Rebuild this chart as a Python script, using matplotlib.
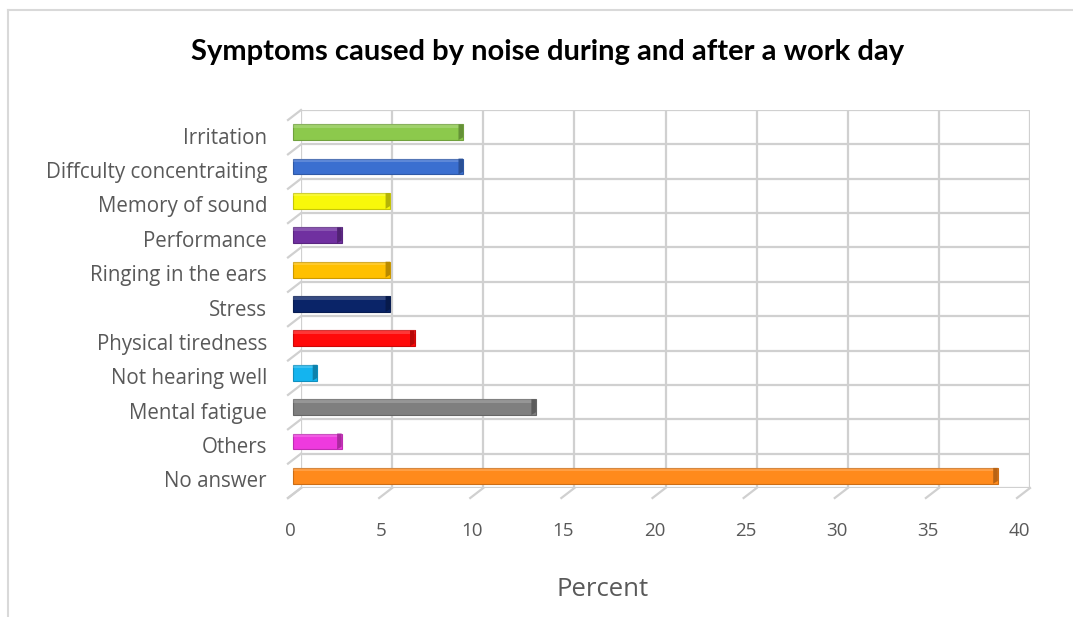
import matplotlib
matplotlib.use('Agg')
import matplotlib.pyplot as plt
import matplotlib.transforms as mtransforms
from matplotlib.patches import Rectangle, Polygon
from matplotlib.lines import Line2D

categories = ['No answer', 'Others', 'Mental fatigue', 'Not hearing well',
              'Physical tiredness', 'Stress', 'Ringing in the ears',
              'Performance', 'Memory of sound', 'Diffculty concentraiting',
              'Irritation']
percent = [38.67, 2.67, 13.33, 1.33, 6.67, 5.33, 5.33, 2.67, 5.33, 9.33, 9.33]
colors = ['#ff8a1c', '#ee3ade', '#7f7f7f', '#14b4ef', '#ff0a0a', '#0a2468',
          '#ffc000', '#7030a0', '#f8f80a', '#3b6fd0', '#8cc94c']
xticks = [0, 5, 10, 15, 20, 25, 30, 35, 40]

TEXT = '#595959'
GRID = '#d0d0d0'
W, H = 1073, 617

fig = plt.figure(figsize=(10.73, 6.17), dpi=100)
ax = fig.add_axes([301 / W, 129 / H, 729 / W, 378 / H])
ax.set_xlim(0, 40)
ax.set_ylim(-0.5, len(categories) - 0.5)
for s in ax.spines.values():
    s.set_visible(False)
ax.set_xticks([])
ax.set_yticks([])

# back wall grid
for x in xticks:
    ax.axvline(x, color=GRID, lw=1.6, zorder=1)
for i in range(len(categories) + 1):
    ax.axhline(i - 0.5, color=GRID, lw=1.6, zorder=1)


def stub(x, y):
    # short diagonal line running from the wall towards the viewer
    p0 = ax.transData.transform((x, y))
    p1 = p0 + [-13, -10]
    fig.add_artist(Line2D([p0[0] / W, p1[0] / W], [p0[1] / H, p1[1] / H],
                          color=GRID, lw=1.6, transform=fig.transFigure))


for x in xticks:
    stub(x, -0.5)
for i in range(len(categories) + 1):
    stub(0, i - 0.5)


def shade(c, f):
    r, g, b = matplotlib.colors.to_rgb(c)
    return (r * f, g * f, b * f)


# bars sit a little in front of the wall
front = ax.transData + mtransforms.ScaledTranslation(-0.08, -0.05, fig.dpi_scale_trans)
h = 0.46
for i, (v, c) in enumerate(zip(percent, colors)):
    y0 = i - h / 2
    ax.add_patch(Rectangle((0, y0), v, h, facecolor=c, edgecolor=shade(c, 0.8),
                           lw=0.8, transform=front, zorder=3, clip_on=False))
    # lighter strip along the top edge
    ax.add_patch(Rectangle((0, y0 + h * 0.78), v, h * 0.22,
                           facecolor=matplotlib.colors.to_rgba('white', 0.18),
                           edgecolor='none', transform=front, zorder=4, clip_on=False))
    # bevelled end face
    dx = 0.25
    ax.add_patch(Polygon([(v - dx, y0), (v, y0 + 0.08), (v, y0 + h), (v - dx, y0 + h)],
                         closed=True, facecolor=shade(c, 0.72), edgecolor='none',
                         transform=front, zorder=4, clip_on=False))

# tick labels
xlab = ax.transData + mtransforms.ScaledTranslation(-0.11, -0.43, fig.dpi_scale_trans)
for x in xticks:
    ax.text(x, -0.5, str(x), transform=xlab, ha='center', va='center',
            fontsize=13.5, color=TEXT, family='Open Sans')
ylab = ax.transData + mtransforms.ScaledTranslation(-0.34, -0.11, fig.dpi_scale_trans)
for i, name in enumerate(categories):
    ax.text(0, i, name, transform=ylab, ha='right', va='center',
            fontsize=14.8, color=TEXT, family='Open Sans')

fig.text(603 / W, 1 - 590 / H, 'Percent', ha='center', va='center',
         fontsize=18.5, color=TEXT, family='Open Sans')
fig.text(548 / W, 1 - 52 / H, 'Symptoms caused by noise during and after a work day',
         ha='center', va='center', fontsize=21, fontweight='bold', color='black',
         family='Lato')

# chart area border
fig.add_artist(Line2D([8 / W, 8 / W], [0, 1 - 10 / H], color='#d9d9d9', lw=1.5,
                      transform=fig.transFigure))
fig.add_artist(Line2D([8 / W, 1], [1 - 10 / H, 1 - 10 / H], color='#d9d9d9', lw=1.5,
                      transform=fig.transFigure))

fig.savefig('out.png', dpi=100)
